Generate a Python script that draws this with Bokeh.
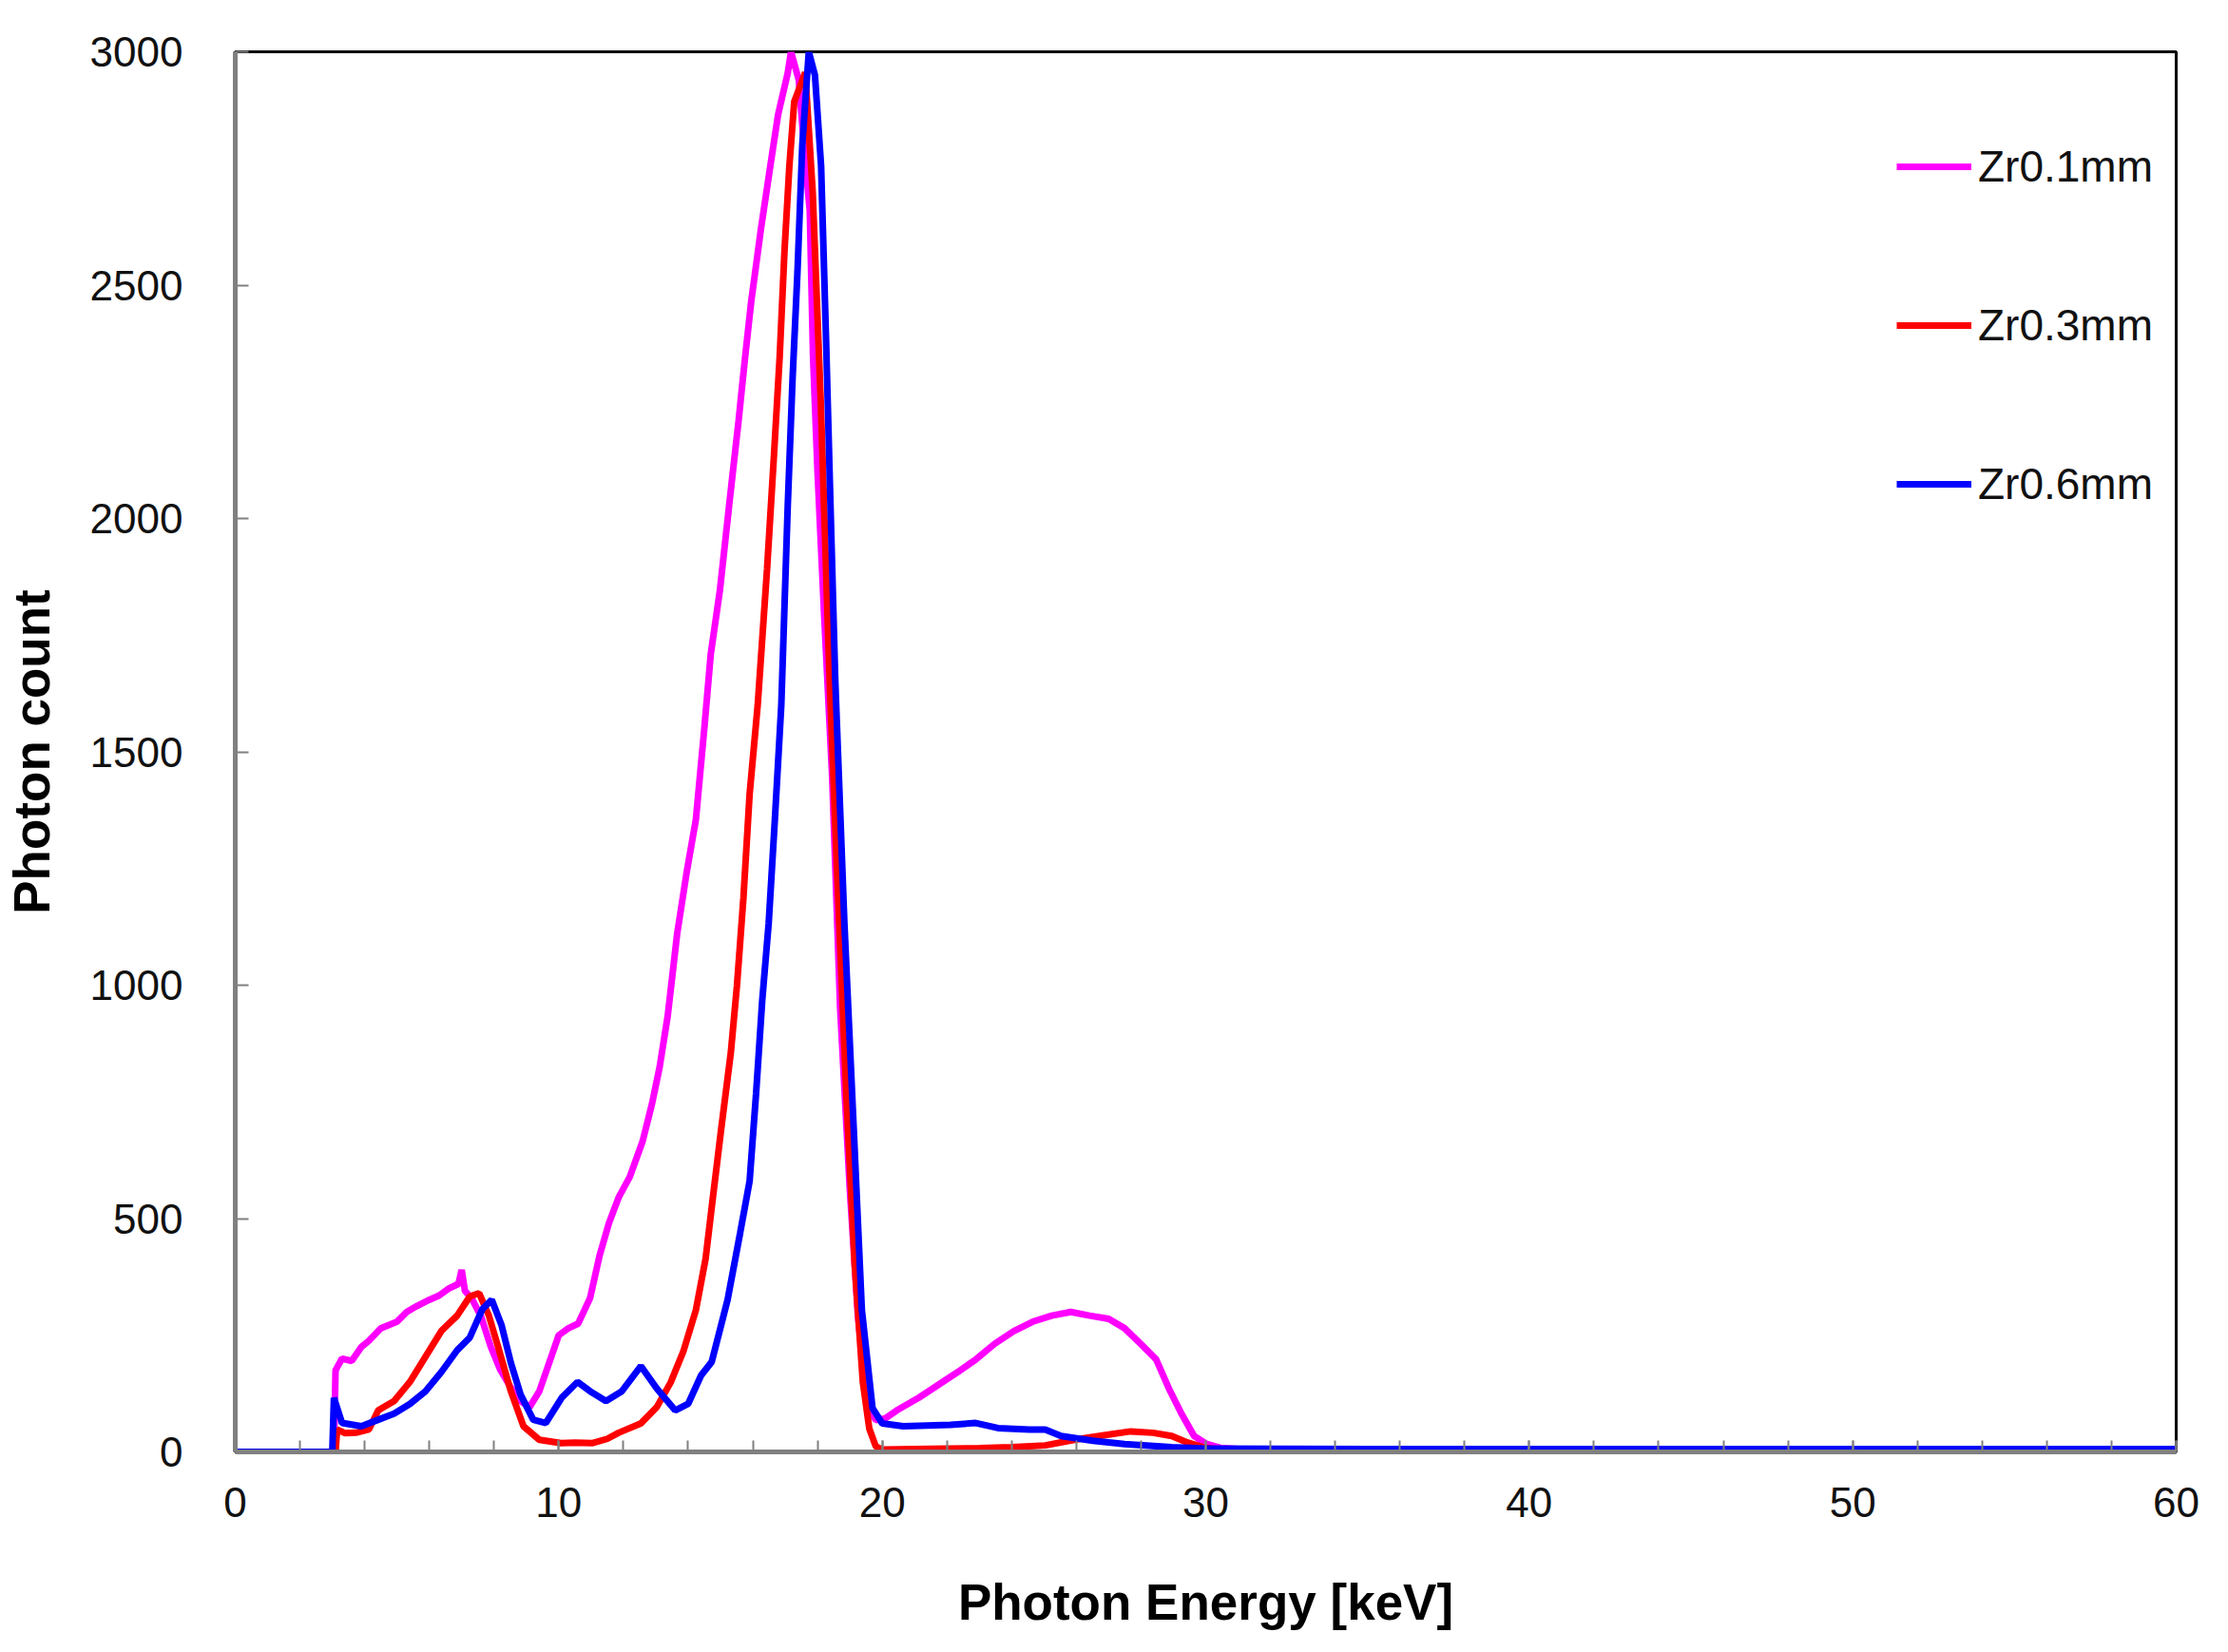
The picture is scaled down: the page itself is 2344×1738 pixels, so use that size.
from bokeh.plotting import figure
from bokeh.models import Range1d, FixedTicker, Legend, LegendItem
from bokeh.embed import file_html
from bokeh.resources import INLINE

# ---- data ----
energy_zr01 = [0, 3.05, 3.1, 3.3, 3.6, 3.9, 4.13, 4.5, 5.0, 5.3, 5.6, 6.0, 6.3, 6.6, 6.9, 7.0, 7.1,
               7.3, 7.6, 7.9, 8.2, 8.5, 8.8, 9.1, 9.4, 9.66, 10.0, 10.3, 10.6, 10.97, 11.26, 11.55,
               11.85, 12.2, 12.59, 12.88, 13.12, 13.37, 13.66, 13.95, 14.24, 14.5, 14.7, 14.98,
               15.27, 15.56, 15.76, 15.95, 16.25, 16.54, 16.78, 17.08, 17.18, 17.42, 17.6, 17.76,
               17.86, 18.0, 18.2, 18.45, 18.7, 19.0, 19.25, 19.55, 19.8, 20.1, 20.45, 21.13, 21.72,
               22.31, 22.89, 23.48, 24.07, 24.65, 25.24, 25.83, 26.41, 27.0, 27.49, 27.98, 28.47,
               28.86, 29.25, 29.64, 30.03, 30.5, 31, 35, 40, 45, 50, 55, 60]
count_zr01 = [0, 0, 175, 200, 195, 225, 238, 265, 279, 300, 312, 326, 335, 350, 360, 390, 345,
              330, 290, 225, 175, 140, 110, 96, 130, 182, 250, 265, 275, 330, 420, 490,
              545, 590, 665, 745, 825, 935, 1110, 1240, 1355, 1550, 1710, 1845,
              2030, 2210, 2345, 2465, 2620, 2755, 2865, 2955, 3000, 2940, 2780, 2660,
              2350, 2100, 1800, 1450, 950, 560, 290, 100, 68, 72, 89, 116, 143,
              170, 198, 232, 259, 279, 292, 300, 292, 285, 265, 232, 198,
              136, 82, 34, 17, 8, 6, 5, 5, 5, 5, 5, 5]

energy_zr03 = [0, 3.1, 3.15, 3.4, 3.73, 4.13, 4.42, 4.91, 5.4, 5.88, 6.37, 6.86, 7.25, 7.54, 7.84,
               8.13, 8.52, 8.91, 9.4, 10.07, 10.5, 11.05, 11.5, 11.85, 12.54, 13.03, 13.46, 13.85,
               14.24, 14.54, 14.73, 15.02, 15.32, 15.51, 15.71, 15.9, 16.15, 16.44, 16.64, 16.83,
               16.98, 17.13, 17.28, 17.62, 17.85, 18.1, 18.35, 18.6, 18.9, 19.15, 19.4, 19.6, 19.8,
               20.0, 21, 22, 23, 24, 25.04, 26.02, 27.0, 27.68, 28.37, 28.95, 29.44, 29.93, 30.5,
               35, 40, 45, 50, 55, 60]
count_zr03 = [0, 0, 48, 40, 41, 48, 89, 109, 150, 204, 259, 292, 333, 340, 292,
              224, 130, 55, 26, 19, 20, 19, 28, 41, 61, 96, 149, 215,
              304, 414, 525, 691, 856, 1000, 1188, 1409, 1600, 1892, 2120, 2347,
              2575, 2756, 2893, 2956, 2700, 2250, 1700, 1250, 750, 400, 150, 50, 12,
              5, 6, 7, 8, 10, 14, 27, 37, 44, 41, 34, 20, 10, 4,
              3, 3, 3, 3, 3, 3]

energy_zr06 = [0, 3.0, 3.05, 3.3, 3.9, 4.42, 4.91, 5.4, 5.88, 6.37, 6.86, 7.25, 7.64, 7.93, 8.23,
               8.52, 8.82, 9.21, 9.6, 10.09, 10.58, 10.97, 11.46, 11.95, 12.54, 13.03, 13.6, 14.0,
               14.4, 14.73, 15.22, 15.61, 15.9, 16.1, 16.29, 16.49, 16.68, 16.88, 17.08, 17.23,
               17.38, 17.53, 17.73, 17.92, 18.11, 18.26, 18.4, 18.55, 18.83, 19.12, 19.37, 19.7,
               20.0, 20.65, 22.11, 22.89, 23.58, 24.55, 25.04, 25.53, 26.51, 27.49, 28.95, 30,
               35, 40, 45, 50, 55, 60]
count_zr06 = [0, 0, 116, 62, 55, 69, 82, 103, 130, 171, 218, 245, 306, 326, 272,
              191, 123, 69, 62, 116, 150, 130, 109, 130, 184, 136, 89, 103,
              164, 193, 326, 470, 580, 768, 967, 1133, 1354, 1600, 2029, 2302,
              2529, 2802, 3000, 2950, 2756, 2392, 2029, 1650, 1133, 691, 304, 94,
              61, 55, 58, 62, 51, 48, 48, 34, 24, 17, 10, 7,
              6, 6, 6, 6, 6, 6]

series_names = ["Zr0.1mm", "Zr0.3mm", "Zr0.6mm"]
series_colors = ["#FF00FF", "#FF0000", "#0000FF"]
x_major_ticks = [0, 10, 20, 30, 40, 50, 60]
x_minor_ticks = list(range(0, 61, 2))
y_ticks = [0, 500, 1000, 1500, 2000, 2500, 3000]

FONT = "Liberation Sans"

p = figure(width=2328, height=1722, output_backend="svg", toolbar_location=None,
           x_range=Range1d(0, 60), y_range=Range1d(0, 3000),
           min_border_left=246, min_border_right=39, min_border_top=54, min_border_bottom=195)
p.background_fill_color = "white"
p.border_fill_color = "white"
p.grid.visible = False
p.outline_line_color = "black"
p.outline_line_width = 3

renderers = []
for xs, ys, c in [(energy_zr01, count_zr01, series_colors[0]),
                  (energy_zr03, count_zr03, series_colors[1]),
                  (energy_zr06, count_zr06, series_colors[2])]:
    r = p.line(xs, ys, line_color=c, line_width=7)
    renderers.append(r)

# x axis
xa = p.xaxis[0]
xa.ticker = FixedTicker(ticks=x_major_ticks, minor_ticks=x_minor_ticks)
xa.axis_line_color = "#808080"
xa.axis_line_width = 5
xa.major_tick_in = 12
xa.major_tick_out = 0
xa.minor_tick_in = 12
xa.minor_tick_out = 0
xa.major_tick_line_color = "#808080"
xa.minor_tick_line_color = "#808080"
xa.major_tick_line_width = 2
xa.minor_tick_line_width = 2
xa.major_label_text_font = FONT
xa.major_label_text_font_size = "44px"
xa.major_label_text_color = "#111111"
xa.major_label_standoff = 37
xa.axis_label = "Photon Energy [keV]"
xa.axis_label_text_font = FONT
xa.axis_label_text_font_style = "bold"
xa.axis_label_text_font_size = "53px"
xa.axis_label_text_color = "black"
xa.axis_label_standoff = 57

# y axis
ya = p.yaxis[0]
ya.ticker = FixedTicker(ticks=y_ticks)
ya.axis_line_color = "#808080"
ya.axis_line_width = 5
ya.major_tick_in = 14
ya.major_tick_out = 0
ya.minor_tick_in = 0
ya.minor_tick_out = 0
ya.major_tick_line_color = "#808080"
ya.major_tick_line_width = 2
ya.major_label_text_font = FONT
ya.major_label_text_font_size = "44px"
ya.major_label_text_color = "#111111"
ya.major_label_standoff = 55
ya.axis_label = "Photon count"
ya.axis_label_text_font = FONT
ya.axis_label_text_font_style = "bold"
ya.axis_label_text_font_size = "53px"
ya.axis_label_text_color = "black"
ya.axis_label_standoff = 29

legend = Legend(items=[LegendItem(label=n, renderers=[r]) for n, r in zip(series_names, renderers)],
                location=(1748, 991), orientation="vertical",
                background_fill_alpha=0, border_line_color=None,
                padding=0, margin=0, spacing=113,
                glyph_width=79, glyph_height=20, label_standoff=7,
                label_text_font=FONT, label_text_font_size="46px", label_text_color="#111111")
p.add_layout(legend)

open("out.html", "w").write(file_html(p, INLINE))
